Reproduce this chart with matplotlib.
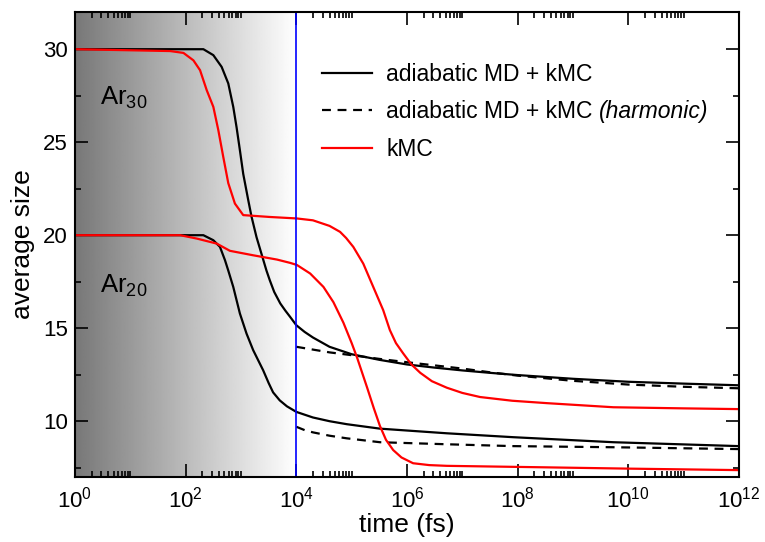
import numpy as np
import matplotlib
matplotlib.use("Agg")
import matplotlib.pyplot as plt
from matplotlib.ticker import FixedLocator, NullFormatter, LogFormatterMathtext

plt.rcParams['font.family'] = ['Liberation Sans', 'DejaVu Sans']
plt.rcParams['mathtext.fontset'] = 'custom'
plt.rcParams['mathtext.rm'] = 'Liberation Sans'
plt.rcParams['mathtext.it'] = 'Liberation Sans:italic'

# Ar30, adiabatic MD + kMC (log10 time, average size)
ar30_md_logt = [0, 2.2, 2.32, 2.5, 2.65, 2.77, 2.86, 2.92, 2.98, 3.04, 3.13, 3.19, 3.28,
                3.37, 3.46, 3.52, 3.6, 3.71, 3.8, 3.89, 4.0, 4.15, 4.3, 4.6, 5.0, 5.5,
                6.0, 6.5, 7.0, 7.5, 8.0, 9.0, 10.0, 11.0, 12.0]
ar30_md_size = [30.0, 30.0, 30.0, 29.68, 29.05, 28.16, 26.9, 25.8, 24.57, 23.3, 21.9, 21.0,
                19.9, 19.0, 18.1, 17.58, 16.95, 16.33, 15.95, 15.6, 15.16, 14.8, 14.5,
                14.0, 13.6, 13.3, 13.05, 12.88, 12.73, 12.6, 12.48, 12.28, 12.12, 12.02,
                11.93]

# Ar30, harmonic (starts at 1e4 fs)
ar30_harm_logt = [4.0, 4.3, 4.6, 5.0, 5.5, 6.0, 6.5, 7.0, 7.5, 8.0, 9.0, 10.0, 11.0, 12.0]
ar30_harm_size = [14.0, 13.85, 13.7, 13.55, 13.35, 13.17, 13.0, 12.83, 12.63, 12.45, 12.17,
                  11.97, 11.85, 11.77]

# Ar30, kMC
ar30_kmc_logt = [0, 1.72, 1.96, 2.14, 2.26, 2.38, 2.5, 2.59, 2.68, 2.77, 2.89, 3.04, 3.52,
                 4.01, 4.3, 4.6, 4.79, 4.9, 5.03, 5.21, 5.39, 5.57, 5.69, 5.8, 5.93, 6.08,
                 6.24, 6.45, 6.72, 7.0, 7.32, 7.9, 8.53, 9.73, 11.0, 12.0]
ar30_kmc_size = [30.0, 29.9, 29.8, 29.4, 28.87, 27.8, 26.9, 25.65, 24.2, 22.8, 21.7, 21.08,
                 20.98, 20.9, 20.8, 20.5, 20.18, 19.85, 19.37, 18.47, 17.22, 15.97, 14.9,
                 14.2, 13.65, 13.05, 12.6, 12.15, 11.8, 11.52, 11.3, 11.1, 10.97, 10.75,
                 10.69, 10.65]

# Ar20, adiabatic MD + kMC
ar20_md_logt = [0, 2.32, 2.5, 2.62, 2.71, 2.77, 2.86, 2.98, 3.1, 3.22, 3.4, 3.5, 3.58, 3.7,
                3.83, 4.0, 4.3, 4.6, 4.91, 5.51, 6.72, 7.92, 9.73, 12.0]
ar20_md_size = [20.0, 20.0, 19.73, 19.37, 18.66, 18.1, 17.22, 15.79, 14.71, 13.82, 12.74,
                12.05, 11.55, 11.12, 10.8, 10.5, 10.2, 10.0, 9.84, 9.6, 9.35, 9.14, 8.87,
                8.66]

# Ar20, harmonic
ar20_harm_logt = [4.0, 4.15, 4.3, 4.6, 4.91, 5.51, 6.72, 7.92, 9.73, 12.0]
ar20_harm_size = [9.7, 9.52, 9.4, 9.22, 9.08, 8.87, 8.76, 8.66, 8.6, 8.5]

# Ar20, kMC
ar20_kmc_logt = [0, 1.9, 2.2, 2.56, 2.8, 3.22, 3.65, 3.89, 4.01, 4.25, 4.49, 4.67, 4.85,
                 5.0, 5.1, 5.28, 5.4, 5.51, 5.62, 5.75, 5.9, 6.11, 6.4, 6.72, 8.5, 10.0, 12.0]
ar20_kmc_size = [20.0, 20.0, 19.82, 19.55, 19.16, 18.92, 18.69, 18.51, 18.4, 17.94, 17.22,
                 16.4, 15.3, 14.2, 13.4, 11.8, 10.7, 9.75, 9.0, 8.45, 8.05, 7.74, 7.64, 7.6,
                 7.52, 7.45, 7.37]

x_major = [1e0, 1e2, 1e4, 1e6, 1e8, 1e10, 1e12]

fig = plt.figure(figsize=(7.65, 5.42), dpi=100)
ax = fig.add_axes([75 / 765, 1 - 477 / 542, 664 / 765, 465 / 542])

# grey shading for the MD part (up to 1e4 fs = 1/3 of the axis)
grad = np.linspace(0.47, 1.0, 256).reshape(1, -1)
ax.imshow(grad, cmap='gray', vmin=0, vmax=1, extent=[0, 1 / 3, 0, 1],
          transform=ax.transAxes, aspect='auto', zorder=0, interpolation='bilinear')

lw = 1.6
def t(logt):
    return 10 ** np.array(logt)

l1, = ax.plot(t(ar30_md_logt), ar30_md_size, color='black', lw=lw, zorder=3)
ax.plot(t(ar20_md_logt), ar20_md_size, color='black', lw=lw, zorder=3)
l2, = ax.plot(t(ar30_harm_logt), ar30_harm_size, color='black', lw=lw, dashes=(4, 3), zorder=3)
ax.plot(t(ar20_harm_logt), ar20_harm_size, color='black', lw=lw, dashes=(4, 3), zorder=3)
l3, = ax.plot(t(ar30_kmc_logt), ar30_kmc_size, color='red', lw=lw, zorder=4)
ax.plot(t(ar20_kmc_logt), ar20_kmc_size, color='red', lw=lw, zorder=4)

ax.axvline(1e4, color='blue', lw=1.2, zorder=5)

ax.set_xscale('log')
ax.set_xlim(1, 1e12)
ax.set_ylim(7, 32)

ax.xaxis.set_major_locator(FixedLocator(x_major))
ax.xaxis.set_major_formatter(LogFormatterMathtext())
minors = [m * 10 ** (2 * k) for k in range(6) for m in range(2, 11)]
ax.xaxis.set_minor_locator(FixedLocator(minors))
ax.xaxis.set_minor_formatter(NullFormatter())
ax.set_yticks([10, 15, 20, 25, 30])
ax.yaxis.set_minor_locator(FixedLocator([7.5, 12.5, 17.5, 22.5, 27.5]))

ax.tick_params(which='both', direction='in', top=True, right=True, width=1.2, labelsize=16)
ax.tick_params(which='major', length=9.5)
ax.tick_params(which='minor', length=4.5)
ax.tick_params(axis='x', pad=7)
ax.tick_params(axis='y', pad=5)
for s in ax.spines.values():
    s.set_linewidth(1.5)
    s.set_zorder(6)

ax.set_xlabel('time (fs)', fontsize=19, labelpad=0)
ax.set_ylabel('average size', fontsize=19, labelpad=6)

ax.text(10 ** 0.45, 27.0, 'Ar$_{30}$', fontsize=18.5)
ax.text(10 ** 0.45, 16.9, 'Ar$_{20}$', fontsize=18.5)

leg = ax.legend([l1, l2, l3],
                ['adiabatic MD + kMC', 'adiabatic MD + kMC', 'kMC'],
                loc='upper left', bbox_to_anchor=(0.372, 0.89), frameon=False,
                fontsize=16.5, handlelength=2.2, handletextpad=0.6, labelspacing=0.62,
                borderpad=0, borderaxespad=0)

# italic "(harmonic)" right after the second legend label
fig.canvas.draw()
bb = leg.get_texts()[1].get_window_extent()
W, H = fig.bbox.width, fig.bbox.height
fig.text((bb.x1 + 6.5) / W, bb.y0 / H, '(harmonic)', fontsize=16.5,
         fontstyle='italic', va='bottom', ha='left')

fig.savefig('out.png', dpi=100)
